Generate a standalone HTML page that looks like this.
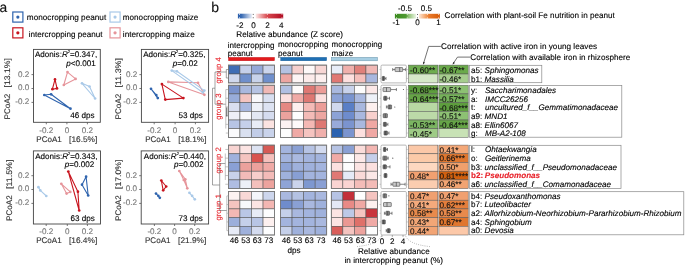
<!DOCTYPE html>
<html><head><meta charset="utf-8"><style>
html,body{margin:0;padding:0;background:#fff;overflow:hidden;}
svg{display:block;font-family:"Liberation Sans", sans-serif;will-change:transform;text-rendering:geometricPrecision;}
</style></head><body>
<svg width="685" height="266" viewBox="0 0 685 266">
<rect width="685" height="266" fill="#fff"/>
<text x="-0.5" y="11.6" font-size="13.8" fill="#111" text-anchor="start"  stroke="#111" stroke-width="0.12">a</text>
<text x="211.2" y="11.7" font-size="14" fill="#111" text-anchor="start"  stroke="#111" stroke-width="0.12">b</text>
<rect x="12.799999999999999" y="12.0" width="10.1" height="10.1" fill="#fff" stroke="#2f64ae" stroke-width="1.2"/>
<circle cx="17.85" cy="17.05" r="1.6" fill="#2f64ae"/>
<text x="26.8" y="20.3" font-size="8.1" fill="#000" text-anchor="start" textLength="79.4" lengthAdjust="spacingAndGlyphs"  stroke="#000" stroke-width="0.12">monocropping peanut</text>
<rect x="12.799999999999999" y="27.8" width="10.1" height="10.1" fill="#fff" stroke="#c8141e" stroke-width="1.2"/>
<circle cx="17.85" cy="32.85" r="1.6" fill="#c8141e"/>
<text x="28.8" y="36.5" font-size="8.1" fill="#000" text-anchor="start" textLength="73.8" lengthAdjust="spacingAndGlyphs"  stroke="#000" stroke-width="0.12">intercropping peanut</text>
<rect x="110.0" y="12.0" width="10.1" height="10.1" fill="#fff" stroke="#a9c9e8" stroke-width="1.2"/>
<circle cx="115.05000000000001" cy="17.05" r="1.6" fill="#a9c9e8"/>
<text x="122.8" y="20.3" font-size="8.1" fill="#000" text-anchor="start" textLength="75.5" lengthAdjust="spacingAndGlyphs"  stroke="#000" stroke-width="0.12">monocropping maize</text>
<rect x="110.0" y="27.8" width="10.1" height="10.1" fill="#fff" stroke="#e6949a" stroke-width="1.2"/>
<circle cx="115.05000000000001" cy="32.85" r="1.6" fill="#e6949a"/>
<text x="122.8" y="36.5" font-size="8.1" fill="#000" text-anchor="start" textLength="72.0" lengthAdjust="spacingAndGlyphs"  stroke="#000" stroke-width="0.12">intercropping maize</text>
<rect x="33.5" y="49.4" width="66.80" height="72.90" fill="none" stroke="#444" stroke-width="0.9"/>
<line x1="46.3" y1="122.3" x2="46.3" y2="124.3" stroke="#555" stroke-width="0.8"/>
<text x="46.3" y="132.5" font-size="8.1" fill="#777" text-anchor="middle"  stroke="#777" stroke-width="0.12">-0.2</text>
<line x1="66.9" y1="122.3" x2="66.9" y2="124.3" stroke="#555" stroke-width="0.8"/>
<text x="66.9" y="132.5" font-size="8.1" fill="#777" text-anchor="middle"  stroke="#777" stroke-width="0.12">0</text>
<line x1="87.4" y1="122.3" x2="87.4" y2="124.3" stroke="#555" stroke-width="0.8"/>
<text x="87.4" y="132.5" font-size="8.1" fill="#777" text-anchor="middle"  stroke="#777" stroke-width="0.12">0.2</text>
<line x1="31.5" y1="74.6" x2="33.5" y2="74.6" stroke="#555" stroke-width="0.8"/>
<text x="29.3" y="76.5" font-size="8.1" fill="#777" text-anchor="end"  stroke="#777" stroke-width="0.12">0.2</text>
<line x1="31.5" y1="88.5" x2="33.5" y2="88.5" stroke="#555" stroke-width="0.8"/>
<text x="29.3" y="90.4" font-size="8.1" fill="#777" text-anchor="end"  stroke="#777" stroke-width="0.12">0.0</text>
<line x1="31.5" y1="102.4" x2="33.5" y2="102.4" stroke="#555" stroke-width="0.8"/>
<text x="29.3" y="104.30000000000001" font-size="8.1" fill="#777" text-anchor="end"  stroke="#777" stroke-width="0.12">-0.2</text>
<text x="36.3" y="141.6" font-size="8.1" fill="#333" text-anchor="start" textLength="25.5" lengthAdjust="spacingAndGlyphs"  stroke="#333" stroke-width="0.12">PCoA1</text>
<text x="69.1" y="141.6" font-size="8.1" fill="#333" text-anchor="start" textLength="28.2" lengthAdjust="spacingAndGlyphs"  stroke="#333" stroke-width="0.12">[16.5%]</text>
<text transform="translate(10.10,119.40) rotate(-90)" x="0" y="0" font-size="8.1" fill="#333" textLength="25.6" lengthAdjust="spacingAndGlyphs" stroke="#333" stroke-width="0.12">PCoA2</text>
<text transform="translate(10.10,87.40) rotate(-90)" x="0" y="0" font-size="8.1" fill="#333" textLength="29.3" lengthAdjust="spacingAndGlyphs" stroke="#333" stroke-width="0.12">[13.1%]</text>
<text x="34.90" y="57.00" font-size="8.1" fill="#000" stroke="#000" stroke-width="0.12">Adonis:<tspan font-style="italic">R</tspan><tspan font-size="4" dy="-3.6">2</tspan><tspan dy="3.6">=0.347,</tspan></text>
<text x="66.20" y="65.50" font-size="8.1" fill="#000" stroke="#000" stroke-width="0.12"><tspan font-style="italic">p</tspan>&lt;0.001</text>
<text x="94.5" y="117.8" font-size="8.1" fill="#000" text-anchor="end"  stroke="#000" stroke-width="0.12">46 dps</text>
<path d="M67.5,72.1 L75.6,78.9 L63.8,85 L67.5,72.1" fill="none" stroke="#e6949a" stroke-width="1.1" stroke-linejoin="round"/>
<circle cx="67.5" cy="72.1" r="1.35" fill="#e6949a"/>
<circle cx="75.6" cy="78.9" r="1.35" fill="#e6949a"/>
<circle cx="63.8" cy="85" r="1.35" fill="#e6949a"/>
<path d="M82,83.3 L89.5,86.5 L95.1,98.5 L82,83.3" fill="none" stroke="#a9c9e8" stroke-width="1.1" stroke-linejoin="round"/>
<circle cx="89.5" cy="86.5" r="1.35" fill="#a9c9e8"/>
<circle cx="82" cy="83.3" r="1.35" fill="#a9c9e8"/>
<circle cx="95.1" cy="98.5" r="1.35" fill="#a9c9e8"/>
<path d="M44.3,95 L51.1,94.3 L70.5,108.7 L44.3,95" fill="none" stroke="#2f64ae" stroke-width="1.1" stroke-linejoin="round"/>
<circle cx="44.3" cy="95" r="1.35" fill="#2f64ae"/>
<circle cx="70.5" cy="108.7" r="1.35" fill="#2f64ae"/>
<circle cx="51.1" cy="94.3" r="1.35" fill="#2f64ae"/>
<path d="M55,79.4 L52.4,89.2 L57,88.4 L55,79.4" fill="none" stroke="#c8141e" stroke-width="1.1" stroke-linejoin="round"/>
<circle cx="57" cy="88.4" r="1.35" fill="#c8141e"/>
<circle cx="55" cy="79.4" r="1.35" fill="#c8141e"/>
<circle cx="52.4" cy="89.2" r="1.35" fill="#c8141e"/>
<rect x="141.4" y="49.4" width="67.20" height="72.90" fill="none" stroke="#444" stroke-width="0.9"/>
<line x1="154.2" y1="122.3" x2="154.2" y2="124.3" stroke="#555" stroke-width="0.8"/>
<text x="154.2" y="132.5" font-size="8.1" fill="#777" text-anchor="middle"  stroke="#777" stroke-width="0.12">-0.2</text>
<line x1="175.1" y1="122.3" x2="175.1" y2="124.3" stroke="#555" stroke-width="0.8"/>
<text x="175.1" y="132.5" font-size="8.1" fill="#777" text-anchor="middle"  stroke="#777" stroke-width="0.12">0</text>
<line x1="195.4" y1="122.3" x2="195.4" y2="124.3" stroke="#555" stroke-width="0.8"/>
<text x="195.4" y="132.5" font-size="8.1" fill="#777" text-anchor="middle"  stroke="#777" stroke-width="0.12">0.2</text>
<line x1="139.4" y1="74.6" x2="141.4" y2="74.6" stroke="#555" stroke-width="0.8"/>
<text x="137.20000000000002" y="76.5" font-size="8.1" fill="#777" text-anchor="end"  stroke="#777" stroke-width="0.12">0.2</text>
<line x1="139.4" y1="88.5" x2="141.4" y2="88.5" stroke="#555" stroke-width="0.8"/>
<text x="137.20000000000002" y="90.4" font-size="8.1" fill="#777" text-anchor="end"  stroke="#777" stroke-width="0.12">0.0</text>
<line x1="139.4" y1="102.4" x2="141.4" y2="102.4" stroke="#555" stroke-width="0.8"/>
<text x="137.20000000000002" y="104.30000000000001" font-size="8.1" fill="#777" text-anchor="end"  stroke="#777" stroke-width="0.12">-0.2</text>
<text x="145.20000000000002" y="141.6" font-size="8.1" fill="#333" text-anchor="start" textLength="25.5" lengthAdjust="spacingAndGlyphs"  stroke="#333" stroke-width="0.12">PCoA1</text>
<text x="178.3" y="141.6" font-size="8.1" fill="#333" text-anchor="start" textLength="28.2" lengthAdjust="spacingAndGlyphs"  stroke="#333" stroke-width="0.12">[18.1%]</text>
<text transform="translate(120.70,119.40) rotate(-90)" x="0" y="0" font-size="8.1" fill="#333" textLength="25.6" lengthAdjust="spacingAndGlyphs" stroke="#333" stroke-width="0.12">PCoA2</text>
<text transform="translate(120.70,87.40) rotate(-90)" x="0" y="0" font-size="8.1" fill="#333" textLength="29.3" lengthAdjust="spacingAndGlyphs" stroke="#333" stroke-width="0.12">[11.3%]</text>
<text x="143.20" y="57.00" font-size="8.1" fill="#000" stroke="#000" stroke-width="0.12">Adonis:<tspan font-style="italic">R</tspan><tspan font-size="4" dy="-3.6">2</tspan><tspan dy="3.6">=0.325,</tspan></text>
<text x="172.80" y="65.50" font-size="8.1" fill="#000" stroke="#000" stroke-width="0.12"><tspan font-style="italic">p</tspan>=0.02</text>
<text x="202.79999999999998" y="117.8" font-size="8.1" fill="#000" text-anchor="end"  stroke="#000" stroke-width="0.12">53 dps</text>
<path d="M168.3,81.9 L198,82.8 L204.4,94.8 L168.3,81.9" fill="none" stroke="#e6949a" stroke-width="1.1" stroke-linejoin="round"/>
<circle cx="168.3" cy="81.9" r="1.35" fill="#e6949a"/>
<circle cx="204.4" cy="94.8" r="1.35" fill="#e6949a"/>
<circle cx="198" cy="82.8" r="1.35" fill="#e6949a"/>
<path d="M171.8,70.6 L176.9,71.3 L204.4,90.6 L202.9,92.5 L171.8,70.6" fill="none" stroke="#a9c9e8" stroke-width="1.1" stroke-linejoin="round"/>
<circle cx="176.9" cy="71.3" r="1.35" fill="#a9c9e8"/>
<circle cx="171.8" cy="70.6" r="1.35" fill="#a9c9e8"/>
<circle cx="202.9" cy="92.5" r="1.35" fill="#a9c9e8"/>
<circle cx="204.4" cy="90.6" r="1.35" fill="#a9c9e8"/>
<path d="M151,88.8 L156.3,95.1 L157.8,98.1 L151,88.8" fill="none" stroke="#2f64ae" stroke-width="1.1" stroke-linejoin="round"/>
<circle cx="157.8" cy="98.1" r="1.35" fill="#2f64ae"/>
<circle cx="151" cy="88.8" r="1.35" fill="#2f64ae"/>
<circle cx="156.3" cy="95.1" r="1.35" fill="#2f64ae"/>
<path d="M161.9,84.1 L165.3,99.6 L183.4,98.1 L161.9,84.1" fill="none" stroke="#c8141e" stroke-width="1.1" stroke-linejoin="round"/>
<circle cx="165.3" cy="99.6" r="1.35" fill="#c8141e"/>
<circle cx="161.9" cy="84.1" r="1.35" fill="#c8141e"/>
<circle cx="183.4" cy="98.1" r="1.35" fill="#c8141e"/>
<rect x="33.4" y="150.9" width="67.10" height="73.10" fill="none" stroke="#444" stroke-width="0.9"/>
<line x1="46.2" y1="224.0" x2="46.2" y2="226.0" stroke="#555" stroke-width="0.8"/>
<text x="46.2" y="234.2" font-size="8.1" fill="#777" text-anchor="middle"  stroke="#777" stroke-width="0.12">-0.2</text>
<line x1="67.3" y1="224.0" x2="67.3" y2="226.0" stroke="#555" stroke-width="0.8"/>
<text x="67.3" y="234.2" font-size="8.1" fill="#777" text-anchor="middle"  stroke="#777" stroke-width="0.12">0</text>
<line x1="87.4" y1="224.0" x2="87.4" y2="226.0" stroke="#555" stroke-width="0.8"/>
<text x="87.4" y="234.2" font-size="8.1" fill="#777" text-anchor="middle"  stroke="#777" stroke-width="0.12">0.2</text>
<line x1="31.4" y1="175.7" x2="33.4" y2="175.7" stroke="#555" stroke-width="0.8"/>
<text x="29.2" y="177.6" font-size="8.1" fill="#777" text-anchor="end"  stroke="#777" stroke-width="0.12">0.2</text>
<line x1="31.4" y1="189.5" x2="33.4" y2="189.5" stroke="#555" stroke-width="0.8"/>
<text x="29.2" y="191.4" font-size="8.1" fill="#777" text-anchor="end"  stroke="#777" stroke-width="0.12">0.0</text>
<line x1="31.4" y1="203.4" x2="33.4" y2="203.4" stroke="#555" stroke-width="0.8"/>
<text x="29.2" y="205.3" font-size="8.1" fill="#777" text-anchor="end"  stroke="#777" stroke-width="0.12">-0.2</text>
<text x="36.199999999999996" y="243.3" font-size="8.1" fill="#333" text-anchor="start" textLength="25.5" lengthAdjust="spacingAndGlyphs"  stroke="#333" stroke-width="0.12">PCoA1</text>
<text x="69.0" y="243.3" font-size="8.1" fill="#333" text-anchor="start" textLength="28.2" lengthAdjust="spacingAndGlyphs"  stroke="#333" stroke-width="0.12">[16.4%]</text>
<text transform="translate(12.20,220.90) rotate(-90)" x="0" y="0" font-size="8.1" fill="#333" textLength="25.6" lengthAdjust="spacingAndGlyphs" stroke="#333" stroke-width="0.12">PCoA2</text>
<text transform="translate(12.20,188.90) rotate(-90)" x="0" y="0" font-size="8.1" fill="#333" textLength="29.3" lengthAdjust="spacingAndGlyphs" stroke="#333" stroke-width="0.12">[11.5%]</text>
<text x="35.20" y="158.70" font-size="8.1" fill="#000" stroke="#000" stroke-width="0.12">Adonis:<tspan font-style="italic">R</tspan><tspan font-size="4" dy="-3.6">2</tspan><tspan dy="3.6">=0.343,</tspan></text>
<text x="64.80" y="166.60" font-size="8.1" fill="#000" stroke="#000" stroke-width="0.12"><tspan font-style="italic">p</tspan>=0.002</text>
<text x="94.7" y="221.1" font-size="8.1" fill="#000" text-anchor="end"  stroke="#000" stroke-width="0.12">63 dps</text>
<path d="M61.3,183.8 L66.6,193.6 L70.3,191.9 L61.3,183.8" fill="none" stroke="#e6949a" stroke-width="1.1" stroke-linejoin="round"/>
<circle cx="70.3" cy="191.9" r="1.35" fill="#e6949a"/>
<circle cx="61.3" cy="183.8" r="1.35" fill="#e6949a"/>
<circle cx="66.6" cy="193.6" r="1.35" fill="#e6949a"/>
<path d="M38.4,187.2 L40.3,190.4 L46.3,196" fill="none" stroke="#a9c9e8" stroke-width="1.1" stroke-linejoin="round"/>
<circle cx="40.3" cy="190.4" r="1.35" fill="#a9c9e8"/>
<circle cx="38.4" cy="187.2" r="1.35" fill="#a9c9e8"/>
<circle cx="46.3" cy="196" r="1.35" fill="#a9c9e8"/>
<path d="M86.1,176.7 L82,184.7 L88.2,195.5 L86.1,176.7" fill="none" stroke="#2f64ae" stroke-width="1.1" stroke-linejoin="round"/>
<circle cx="86.1" cy="176.7" r="1.35" fill="#2f64ae"/>
<circle cx="82" cy="184.7" r="1.35" fill="#2f64ae"/>
<circle cx="88.2" cy="195.5" r="1.35" fill="#2f64ae"/>
<path d="M68.3,171.6 L77.9,191.7 L79.2,210.5 L68.3,171.6" fill="none" stroke="#c8141e" stroke-width="1.1" stroke-linejoin="round"/>
<circle cx="77.9" cy="191.7" r="1.35" fill="#c8141e"/>
<circle cx="68.3" cy="171.6" r="1.35" fill="#c8141e"/>
<circle cx="79.2" cy="210.5" r="1.35" fill="#c8141e"/>
<rect x="141.2" y="150.9" width="67.40" height="73.10" fill="none" stroke="#444" stroke-width="0.9"/>
<line x1="154.4" y1="224.0" x2="154.4" y2="226.0" stroke="#555" stroke-width="0.8"/>
<text x="154.4" y="234.2" font-size="8.1" fill="#777" text-anchor="middle"  stroke="#777" stroke-width="0.12">-0.2</text>
<line x1="174.6" y1="224.0" x2="174.6" y2="226.0" stroke="#555" stroke-width="0.8"/>
<text x="174.6" y="234.2" font-size="8.1" fill="#777" text-anchor="middle"  stroke="#777" stroke-width="0.12">0</text>
<line x1="194.7" y1="224.0" x2="194.7" y2="226.0" stroke="#555" stroke-width="0.8"/>
<text x="194.7" y="234.2" font-size="8.1" fill="#777" text-anchor="middle"  stroke="#777" stroke-width="0.12">0.2</text>
<line x1="139.2" y1="175.7" x2="141.2" y2="175.7" stroke="#555" stroke-width="0.8"/>
<text x="137.0" y="177.6" font-size="8.1" fill="#777" text-anchor="end"  stroke="#777" stroke-width="0.12">0.2</text>
<line x1="139.2" y1="189.5" x2="141.2" y2="189.5" stroke="#555" stroke-width="0.8"/>
<text x="137.0" y="191.4" font-size="8.1" fill="#777" text-anchor="end"  stroke="#777" stroke-width="0.12">0.0</text>
<line x1="139.2" y1="203.4" x2="141.2" y2="203.4" stroke="#555" stroke-width="0.8"/>
<text x="137.0" y="205.3" font-size="8.1" fill="#777" text-anchor="end"  stroke="#777" stroke-width="0.12">-0.2</text>
<text x="145.0" y="243.3" font-size="8.1" fill="#333" text-anchor="start" textLength="25.5" lengthAdjust="spacingAndGlyphs"  stroke="#333" stroke-width="0.12">PCoA1</text>
<text x="178.1" y="243.3" font-size="8.1" fill="#333" text-anchor="start" textLength="28.2" lengthAdjust="spacingAndGlyphs"  stroke="#333" stroke-width="0.12">[21.9%]</text>
<text transform="translate(121.00,220.90) rotate(-90)" x="0" y="0" font-size="8.1" fill="#333" textLength="25.6" lengthAdjust="spacingAndGlyphs" stroke="#333" stroke-width="0.12">PCoA2</text>
<text transform="translate(121.00,188.90) rotate(-90)" x="0" y="0" font-size="8.1" fill="#333" textLength="29.3" lengthAdjust="spacingAndGlyphs" stroke="#333" stroke-width="0.12">[17.0%]</text>
<text x="143.80" y="158.70" font-size="8.1" fill="#000" stroke="#000" stroke-width="0.12">Adonis:<tspan font-style="italic">R</tspan><tspan font-size="4" dy="-3.6">2</tspan><tspan dy="3.6">=0.440,</tspan></text>
<text x="174.00" y="166.60" font-size="8.1" fill="#000" stroke="#000" stroke-width="0.12"><tspan font-style="italic">p</tspan>=0.002</text>
<text x="202.79999999999998" y="221.1" font-size="8.1" fill="#000" text-anchor="end"  stroke="#000" stroke-width="0.12">73 dps</text>
<path d="M179.3,171 L185.3,179.3 L187.3,188.3 L183.8,180 L179.3,171" fill="none" stroke="#e6949a" stroke-width="1.1" stroke-linejoin="round"/>
<circle cx="185.3" cy="179.3" r="1.35" fill="#e6949a"/>
<circle cx="179.3" cy="171" r="1.35" fill="#e6949a"/>
<circle cx="187.3" cy="188.3" r="1.35" fill="#e6949a"/>
<circle cx="183.8" cy="180" r="1.35" fill="#e6949a"/>
<path d="M189.4,192.8 L192.1,195.8 L194.8,199.3" fill="none" stroke="#a9c9e8" stroke-width="1.1" stroke-linejoin="round"/>
<circle cx="194.8" cy="199.3" r="1.35" fill="#a9c9e8"/>
<circle cx="189.4" cy="192.8" r="1.35" fill="#a9c9e8"/>
<circle cx="192.1" cy="195.8" r="1.35" fill="#a9c9e8"/>
<path d="M156,193.6 L158.3,195.8 L159.8,197.8" fill="none" stroke="#2f64ae" stroke-width="1.1" stroke-linejoin="round"/>
<circle cx="156" cy="193.6" r="1.35" fill="#2f64ae"/>
<circle cx="158.3" cy="195.8" r="1.35" fill="#2f64ae"/>
<circle cx="159.8" cy="197.8" r="1.35" fill="#2f64ae"/>
<path d="M161.3,180.5 L166.2,186.5 L163.2,190.3 L161.3,180.5" fill="none" stroke="#c8141e" stroke-width="1.1" stroke-linejoin="round"/>
<circle cx="161.3" cy="180.5" r="1.35" fill="#c8141e"/>
<circle cx="163.2" cy="190.3" r="1.35" fill="#c8141e"/>
<circle cx="166.2" cy="186.5" r="1.35" fill="#c8141e"/>
<defs><linearGradient id="gz" x1="0" x2="1" y1="0" y2="0"><stop offset="0" stop-color="#2a5eac"/><stop offset="0.08" stop-color="#3a6cb4"/><stop offset="0.30" stop-color="#e2e8f4"/><stop offset="0.31" stop-color="#ffffff"/><stop offset="0.385" stop-color="#ffffff"/><stop offset="0.40" stop-color="#fce6e4"/><stop offset="0.65" stop-color="#d8484e"/><stop offset="1" stop-color="#b00c22"/></linearGradient><linearGradient id="gc" x1="0" x2="1" y1="0" y2="0"><stop offset="0" stop-color="#3a8a1e"/><stop offset="0.25" stop-color="#4f9a32"/><stop offset="0.30" stop-color="#8cc070"/><stop offset="0.46" stop-color="#e6f1de"/><stop offset="0.47" stop-color="#ffffff"/><stop offset="0.525" stop-color="#ffffff"/><stop offset="0.535" stop-color="#fde6d6"/><stop offset="0.70" stop-color="#f29a58"/><stop offset="0.76" stop-color="#e97a2c"/><stop offset="1" stop-color="#d65a06"/></linearGradient></defs>
<rect x="237.9" y="13.7" width="45.3" height="4.7" fill="url(#gz)"/>
<rect x="239.2" y="13.7" width="0.8" height="1.1" fill="#fff"/><rect x="239.2" y="17.3" width="0.8" height="1.1" fill="#fff"/>
<rect x="266.90000000000003" y="13.7" width="0.8" height="1.1" fill="#fff"/><rect x="266.90000000000003" y="17.3" width="0.8" height="1.1" fill="#fff"/>
<rect x="281.6" y="13.7" width="0.8" height="1.1" fill="#fff"/><rect x="281.6" y="17.3" width="0.8" height="1.1" fill="#fff"/>
<rect x="252.8" y="13.9" width="0.8" height="0.9" fill="#222"/><rect x="252.8" y="17.3" width="0.8" height="0.9" fill="#222"/>
<text x="239.8" y="28.0" font-size="8.1" fill="#000" text-anchor="middle"  stroke="#000" stroke-width="0.12">-2</text>
<text x="253.6" y="28.0" font-size="8.1" fill="#000" text-anchor="middle"  stroke="#000" stroke-width="0.12">0</text>
<text x="267.4" y="28.0" font-size="8.1" fill="#000" text-anchor="middle"  stroke="#000" stroke-width="0.12">2</text>
<text x="281.2" y="28.0" font-size="8.1" fill="#000" text-anchor="middle"  stroke="#000" stroke-width="0.12">4</text>
<text x="236.3" y="37.0" font-size="8.1" fill="#000" text-anchor="start" textLength="106.6" lengthAdjust="spacingAndGlyphs"  stroke="#000" stroke-width="0.12">Relative abundance (Z score)</text>
<text x="227.8" y="47.6" font-size="8.1" fill="#000" text-anchor="start" textLength="46.6" lengthAdjust="spacingAndGlyphs"  stroke="#000" stroke-width="0.12">intercropping</text>
<text x="227.8" y="55.8" font-size="8.1" fill="#000" text-anchor="start"  stroke="#000" stroke-width="0.12">peanut</text>
<text x="277.9" y="47.4" font-size="8.1" fill="#000" text-anchor="start" textLength="50.6" lengthAdjust="spacingAndGlyphs"  stroke="#000" stroke-width="0.12">monocropping</text>
<text x="277.9" y="55.6" font-size="8.1" fill="#000" text-anchor="start"  stroke="#000" stroke-width="0.12">peanut</text>
<text x="331.6" y="47.4" font-size="8.1" fill="#000" text-anchor="start" textLength="50.6" lengthAdjust="spacingAndGlyphs"  stroke="#000" stroke-width="0.12">monocropping</text>
<text x="331.6" y="55.6" font-size="8.1" fill="#000" text-anchor="start"  stroke="#000" stroke-width="0.12">maize</text>
<rect x="228.4" y="57.3" width="46.2" height="3.5" fill="#e31a1c" stroke="#b01015" stroke-width="0.3"/>
<rect x="280.6" y="57.3" width="46.1" height="3.5" fill="#1f6fb4" stroke="#104f88" stroke-width="0.3"/>
<rect x="331.3" y="57.3" width="46.2" height="3.5" fill="#a6cee3" stroke="#6a94aa" stroke-width="0.5"/>
<rect x="228.40" y="65.10" width="11.55" height="8.90" fill="#3f6db5" stroke="#555" stroke-width="0.55"/>
<rect x="239.95" y="65.10" width="11.55" height="8.90" fill="#c6d0ea" stroke="#555" stroke-width="0.55"/>
<rect x="251.50" y="65.10" width="11.55" height="8.90" fill="#94a8d8" stroke="#555" stroke-width="0.55"/>
<rect x="263.05" y="65.10" width="11.55" height="8.90" fill="#ccd5ec" stroke="#555" stroke-width="0.55"/>
<rect x="228.40" y="74.00" width="11.55" height="8.90" fill="#d0d8ed" stroke="#555" stroke-width="0.55"/>
<rect x="239.95" y="74.00" width="11.55" height="8.90" fill="#6f8fcc" stroke="#555" stroke-width="0.55"/>
<rect x="251.50" y="74.00" width="11.55" height="8.90" fill="#c8d2ea" stroke="#555" stroke-width="0.55"/>
<rect x="263.05" y="74.00" width="11.55" height="8.90" fill="#6f8fcc" stroke="#555" stroke-width="0.55"/>
<rect x="228.4" y="65.1" width="46.2" height="17.80" fill="none" stroke="#777" stroke-width="0.8"/>
<rect x="280.50" y="65.10" width="11.55" height="8.90" fill="#b4c2e2" stroke="#555" stroke-width="0.55"/>
<rect x="292.05" y="65.10" width="11.55" height="8.90" fill="#f6d0ce" stroke="#555" stroke-width="0.55"/>
<rect x="303.60" y="65.10" width="11.55" height="8.90" fill="#fdf8f8" stroke="#555" stroke-width="0.55"/>
<rect x="315.15" y="65.10" width="11.55" height="8.90" fill="#f7d6d4" stroke="#555" stroke-width="0.55"/>
<rect x="280.50" y="74.00" width="11.55" height="8.90" fill="#eda6a2" stroke="#555" stroke-width="0.55"/>
<rect x="292.05" y="74.00" width="11.55" height="8.90" fill="#fdf5f5" stroke="#555" stroke-width="0.55"/>
<rect x="303.60" y="74.00" width="11.55" height="8.90" fill="#fcebea" stroke="#555" stroke-width="0.55"/>
<rect x="315.15" y="74.00" width="11.55" height="8.90" fill="#fdf0ef" stroke="#555" stroke-width="0.55"/>
<rect x="280.5" y="65.1" width="46.2" height="17.80" fill="none" stroke="#777" stroke-width="0.8"/>
<rect x="331.30" y="65.10" width="11.55" height="8.90" fill="#e8edf8" stroke="#555" stroke-width="0.55"/>
<rect x="342.85" y="65.10" width="11.55" height="8.90" fill="#f0b0ac" stroke="#555" stroke-width="0.55"/>
<rect x="354.40" y="65.10" width="11.55" height="8.90" fill="#e0807a" stroke="#555" stroke-width="0.55"/>
<rect x="365.95" y="65.10" width="11.55" height="8.90" fill="#f0b8b5" stroke="#555" stroke-width="0.55"/>
<rect x="331.30" y="74.00" width="11.55" height="8.90" fill="#e07874" stroke="#555" stroke-width="0.55"/>
<rect x="342.85" y="74.00" width="11.55" height="8.90" fill="#fde0df" stroke="#555" stroke-width="0.55"/>
<rect x="354.40" y="74.00" width="11.55" height="8.90" fill="#f5c0bc" stroke="#555" stroke-width="0.55"/>
<rect x="365.95" y="74.00" width="11.55" height="8.90" fill="#a9b7de" stroke="#555" stroke-width="0.55"/>
<rect x="331.3" y="65.1" width="46.2" height="17.80" fill="none" stroke="#777" stroke-width="0.8"/>
<rect x="228.40" y="85.20" width="11.55" height="8.70" fill="#7b93cc" stroke="#555" stroke-width="0.55"/>
<rect x="239.95" y="85.20" width="11.55" height="8.70" fill="#a9b8de" stroke="#555" stroke-width="0.55"/>
<rect x="251.50" y="85.20" width="11.55" height="8.70" fill="#b6c3e3" stroke="#555" stroke-width="0.55"/>
<rect x="263.05" y="85.20" width="11.55" height="8.70" fill="#f0b8b5" stroke="#555" stroke-width="0.55"/>
<rect x="228.40" y="93.90" width="11.55" height="8.70" fill="#98acd9" stroke="#555" stroke-width="0.55"/>
<rect x="239.95" y="93.90" width="11.55" height="8.70" fill="#f3c4c0" stroke="#555" stroke-width="0.55"/>
<rect x="251.50" y="93.90" width="11.55" height="8.70" fill="#f8f8fb" stroke="#555" stroke-width="0.55"/>
<rect x="263.05" y="93.90" width="11.55" height="8.70" fill="#d8dff0" stroke="#555" stroke-width="0.55"/>
<rect x="228.40" y="102.60" width="11.55" height="8.70" fill="#d8def0" stroke="#555" stroke-width="0.55"/>
<rect x="239.95" y="102.60" width="11.55" height="8.70" fill="#a8b8df" stroke="#555" stroke-width="0.55"/>
<rect x="251.50" y="102.60" width="11.55" height="8.70" fill="#eef1f8" stroke="#555" stroke-width="0.55"/>
<rect x="263.05" y="102.60" width="11.55" height="8.70" fill="#dde3f2" stroke="#555" stroke-width="0.55"/>
<rect x="228.40" y="111.30" width="11.55" height="8.70" fill="#eef0f8" stroke="#555" stroke-width="0.55"/>
<rect x="239.95" y="111.30" width="11.55" height="8.70" fill="#f8f8fb" stroke="#555" stroke-width="0.55"/>
<rect x="251.50" y="111.30" width="11.55" height="8.70" fill="#e3e8f4" stroke="#555" stroke-width="0.55"/>
<rect x="263.05" y="111.30" width="11.55" height="8.70" fill="#d5dcef" stroke="#555" stroke-width="0.55"/>
<rect x="228.40" y="120.00" width="11.55" height="8.70" fill="#b7c4e4" stroke="#555" stroke-width="0.55"/>
<rect x="239.95" y="120.00" width="11.55" height="8.70" fill="#c5d0ea" stroke="#555" stroke-width="0.55"/>
<rect x="251.50" y="120.00" width="11.55" height="8.70" fill="#e8ecf6" stroke="#555" stroke-width="0.55"/>
<rect x="263.05" y="120.00" width="11.55" height="8.70" fill="#fbe3e1" stroke="#555" stroke-width="0.55"/>
<rect x="228.40" y="128.70" width="11.55" height="8.70" fill="#fafafc" stroke="#555" stroke-width="0.55"/>
<rect x="239.95" y="128.70" width="11.55" height="8.70" fill="#d9e0f0" stroke="#555" stroke-width="0.55"/>
<rect x="251.50" y="128.70" width="11.55" height="8.70" fill="#c2cde8" stroke="#555" stroke-width="0.55"/>
<rect x="263.05" y="128.70" width="11.55" height="8.70" fill="#c9d3eb" stroke="#555" stroke-width="0.55"/>
<rect x="228.4" y="85.2" width="46.2" height="52.20" fill="none" stroke="#777" stroke-width="0.8"/>
<rect x="280.50" y="85.20" width="11.55" height="8.70" fill="#b0bfe2" stroke="#555" stroke-width="0.55"/>
<rect x="292.05" y="85.20" width="11.55" height="8.70" fill="#fdfafa" stroke="#555" stroke-width="0.55"/>
<rect x="303.60" y="85.20" width="11.55" height="8.70" fill="#de7873" stroke="#555" stroke-width="0.55"/>
<rect x="315.15" y="85.20" width="11.55" height="8.70" fill="#ec9c97" stroke="#555" stroke-width="0.55"/>
<rect x="280.50" y="93.90" width="11.55" height="8.70" fill="#fce0df" stroke="#555" stroke-width="0.55"/>
<rect x="292.05" y="93.90" width="11.55" height="8.70" fill="#f0aaa6" stroke="#555" stroke-width="0.55"/>
<rect x="303.60" y="93.90" width="11.55" height="8.70" fill="#de7873" stroke="#555" stroke-width="0.55"/>
<rect x="315.15" y="93.90" width="11.55" height="8.70" fill="#fce0df" stroke="#555" stroke-width="0.55"/>
<rect x="280.50" y="102.60" width="11.55" height="8.70" fill="#e58882" stroke="#555" stroke-width="0.55"/>
<rect x="292.05" y="102.60" width="11.55" height="8.70" fill="#fdf0ef" stroke="#555" stroke-width="0.55"/>
<rect x="303.60" y="102.60" width="11.55" height="8.70" fill="#f4bbb7" stroke="#555" stroke-width="0.55"/>
<rect x="315.15" y="102.60" width="11.55" height="8.70" fill="#ec9d98" stroke="#555" stroke-width="0.55"/>
<rect x="280.50" y="111.30" width="11.55" height="8.70" fill="#eba29d" stroke="#555" stroke-width="0.55"/>
<rect x="292.05" y="111.30" width="11.55" height="8.70" fill="#fefefe" stroke="#555" stroke-width="0.55"/>
<rect x="303.60" y="111.30" width="11.55" height="8.70" fill="#f4bbb7" stroke="#555" stroke-width="0.55"/>
<rect x="315.15" y="111.30" width="11.55" height="8.70" fill="#eda6a1" stroke="#555" stroke-width="0.55"/>
<rect x="280.50" y="120.00" width="11.55" height="8.70" fill="#fdf3f3" stroke="#555" stroke-width="0.55"/>
<rect x="292.05" y="120.00" width="11.55" height="8.70" fill="#fdfafa" stroke="#555" stroke-width="0.55"/>
<rect x="303.60" y="120.00" width="11.55" height="8.70" fill="#f4b8b4" stroke="#555" stroke-width="0.55"/>
<rect x="315.15" y="120.00" width="11.55" height="8.70" fill="#de7873" stroke="#555" stroke-width="0.55"/>
<rect x="280.50" y="128.70" width="11.55" height="8.70" fill="#fdfdfd" stroke="#555" stroke-width="0.55"/>
<rect x="292.05" y="128.70" width="11.55" height="8.70" fill="#f0aaa6" stroke="#555" stroke-width="0.55"/>
<rect x="303.60" y="128.70" width="11.55" height="8.70" fill="#f5c4c0" stroke="#555" stroke-width="0.55"/>
<rect x="315.15" y="128.70" width="11.55" height="8.70" fill="#f0b0ac" stroke="#555" stroke-width="0.55"/>
<rect x="280.5" y="85.2" width="46.2" height="52.20" fill="none" stroke="#777" stroke-width="0.8"/>
<rect x="331.30" y="85.20" width="11.55" height="8.70" fill="#a9b8df" stroke="#555" stroke-width="0.55"/>
<rect x="342.85" y="85.20" width="11.55" height="8.70" fill="#c8d2eb" stroke="#555" stroke-width="0.55"/>
<rect x="354.40" y="85.20" width="11.55" height="8.70" fill="#fdfdfd" stroke="#555" stroke-width="0.55"/>
<rect x="365.95" y="85.20" width="11.55" height="8.70" fill="#fce8e7" stroke="#555" stroke-width="0.55"/>
<rect x="331.30" y="93.90" width="11.55" height="8.70" fill="#8ca2d6" stroke="#555" stroke-width="0.55"/>
<rect x="342.85" y="93.90" width="11.55" height="8.70" fill="#7994cf" stroke="#555" stroke-width="0.55"/>
<rect x="354.40" y="93.90" width="11.55" height="8.70" fill="#a9b8df" stroke="#555" stroke-width="0.55"/>
<rect x="365.95" y="93.90" width="11.55" height="8.70" fill="#eef1f8" stroke="#555" stroke-width="0.55"/>
<rect x="331.30" y="102.60" width="11.55" height="8.70" fill="#d0d8ee" stroke="#555" stroke-width="0.55"/>
<rect x="342.85" y="102.60" width="11.55" height="8.70" fill="#5a7fc6" stroke="#555" stroke-width="0.55"/>
<rect x="354.40" y="102.60" width="11.55" height="8.70" fill="#a9b8df" stroke="#555" stroke-width="0.55"/>
<rect x="365.95" y="102.60" width="11.55" height="8.70" fill="#fdf0ef" stroke="#555" stroke-width="0.55"/>
<rect x="331.30" y="111.30" width="11.55" height="8.70" fill="#8ca2d6" stroke="#555" stroke-width="0.55"/>
<rect x="342.85" y="111.30" width="11.55" height="8.70" fill="#6e8ccd" stroke="#555" stroke-width="0.55"/>
<rect x="354.40" y="111.30" width="11.55" height="8.70" fill="#a9b8df" stroke="#555" stroke-width="0.55"/>
<rect x="365.95" y="111.30" width="11.55" height="8.70" fill="#f8d0cd" stroke="#555" stroke-width="0.55"/>
<rect x="331.30" y="120.00" width="11.55" height="8.70" fill="#98aada" stroke="#555" stroke-width="0.55"/>
<rect x="342.85" y="120.00" width="11.55" height="8.70" fill="#7b94cf" stroke="#555" stroke-width="0.55"/>
<rect x="354.40" y="120.00" width="11.55" height="8.70" fill="#a9b8df" stroke="#555" stroke-width="0.55"/>
<rect x="365.95" y="120.00" width="11.55" height="8.70" fill="#f0a8a4" stroke="#555" stroke-width="0.55"/>
<rect x="331.30" y="128.70" width="11.55" height="8.70" fill="#2a62b0" stroke="#555" stroke-width="0.55"/>
<rect x="342.85" y="128.70" width="11.55" height="8.70" fill="#7b94cf" stroke="#555" stroke-width="0.55"/>
<rect x="354.40" y="128.70" width="11.55" height="8.70" fill="#fde0df" stroke="#555" stroke-width="0.55"/>
<rect x="365.95" y="128.70" width="11.55" height="8.70" fill="#f0a8a4" stroke="#555" stroke-width="0.55"/>
<rect x="331.3" y="85.2" width="46.2" height="52.20" fill="none" stroke="#777" stroke-width="0.8"/>
<rect x="228.40" y="145.10" width="11.55" height="8.70" fill="#f8d4d2" stroke="#555" stroke-width="0.55"/>
<rect x="239.95" y="145.10" width="11.55" height="8.70" fill="#fce4e3" stroke="#555" stroke-width="0.55"/>
<rect x="251.50" y="145.10" width="11.55" height="8.70" fill="#dde3f2" stroke="#555" stroke-width="0.55"/>
<rect x="263.05" y="145.10" width="11.55" height="8.70" fill="#d65a55" stroke="#555" stroke-width="0.55"/>
<rect x="228.40" y="153.80" width="11.55" height="8.70" fill="#9fb1dc" stroke="#555" stroke-width="0.55"/>
<rect x="239.95" y="153.80" width="11.55" height="8.70" fill="#f5c4c0" stroke="#555" stroke-width="0.55"/>
<rect x="251.50" y="153.80" width="11.55" height="8.70" fill="#d9534e" stroke="#555" stroke-width="0.55"/>
<rect x="263.05" y="153.80" width="11.55" height="8.70" fill="#f5c0bc" stroke="#555" stroke-width="0.55"/>
<rect x="228.40" y="162.50" width="11.55" height="8.70" fill="#8aa0d5" stroke="#555" stroke-width="0.55"/>
<rect x="239.95" y="162.50" width="11.55" height="8.70" fill="#eca19c" stroke="#555" stroke-width="0.55"/>
<rect x="251.50" y="162.50" width="11.55" height="8.70" fill="#eca19c" stroke="#555" stroke-width="0.55"/>
<rect x="263.05" y="162.50" width="11.55" height="8.70" fill="#f0aaa6" stroke="#555" stroke-width="0.55"/>
<rect x="228.40" y="171.20" width="11.55" height="8.70" fill="#c8d2ea" stroke="#555" stroke-width="0.55"/>
<rect x="239.95" y="171.20" width="11.55" height="8.70" fill="#f3bbb8" stroke="#555" stroke-width="0.55"/>
<rect x="251.50" y="171.20" width="11.55" height="8.70" fill="#f7cecb" stroke="#555" stroke-width="0.55"/>
<rect x="263.05" y="171.20" width="11.55" height="8.70" fill="#f3bbb8" stroke="#555" stroke-width="0.55"/>
<rect x="228.40" y="179.90" width="11.55" height="8.70" fill="#afbde2" stroke="#555" stroke-width="0.55"/>
<rect x="239.95" y="179.90" width="11.55" height="8.70" fill="#edf0f8" stroke="#555" stroke-width="0.55"/>
<rect x="251.50" y="179.90" width="11.55" height="8.70" fill="#f4c0bc" stroke="#555" stroke-width="0.55"/>
<rect x="263.05" y="179.90" width="11.55" height="8.70" fill="#eda39e" stroke="#555" stroke-width="0.55"/>
<rect x="228.4" y="145.1" width="46.2" height="43.50" fill="none" stroke="#777" stroke-width="0.8"/>
<rect x="280.50" y="145.10" width="11.55" height="8.70" fill="#a3b4de" stroke="#555" stroke-width="0.55"/>
<rect x="292.05" y="145.10" width="11.55" height="8.70" fill="#8aa0d4" stroke="#555" stroke-width="0.55"/>
<rect x="303.60" y="145.10" width="11.55" height="8.70" fill="#b6c3e4" stroke="#555" stroke-width="0.55"/>
<rect x="315.15" y="145.10" width="11.55" height="8.70" fill="#d2daef" stroke="#555" stroke-width="0.55"/>
<rect x="280.50" y="153.80" width="11.55" height="8.70" fill="#a3b4de" stroke="#555" stroke-width="0.55"/>
<rect x="292.05" y="153.80" width="11.55" height="8.70" fill="#aab9e0" stroke="#555" stroke-width="0.55"/>
<rect x="303.60" y="153.80" width="11.55" height="8.70" fill="#a3b4de" stroke="#555" stroke-width="0.55"/>
<rect x="315.15" y="153.80" width="11.55" height="8.70" fill="#a3b4de" stroke="#555" stroke-width="0.55"/>
<rect x="280.50" y="162.50" width="11.55" height="8.70" fill="#8fa4d6" stroke="#555" stroke-width="0.55"/>
<rect x="292.05" y="162.50" width="11.55" height="8.70" fill="#9fb1dc" stroke="#555" stroke-width="0.55"/>
<rect x="303.60" y="162.50" width="11.55" height="8.70" fill="#9fb1dc" stroke="#555" stroke-width="0.55"/>
<rect x="315.15" y="162.50" width="11.55" height="8.70" fill="#a3b4de" stroke="#555" stroke-width="0.55"/>
<rect x="280.50" y="171.20" width="11.55" height="8.70" fill="#9fb1dc" stroke="#555" stroke-width="0.55"/>
<rect x="292.05" y="171.20" width="11.55" height="8.70" fill="#889fd4" stroke="#555" stroke-width="0.55"/>
<rect x="303.60" y="171.20" width="11.55" height="8.70" fill="#a3b4de" stroke="#555" stroke-width="0.55"/>
<rect x="315.15" y="171.20" width="11.55" height="8.70" fill="#a3b4de" stroke="#555" stroke-width="0.55"/>
<rect x="280.50" y="179.90" width="11.55" height="8.70" fill="#8fa4d6" stroke="#555" stroke-width="0.55"/>
<rect x="292.05" y="179.90" width="11.55" height="8.70" fill="#cbd4ec" stroke="#555" stroke-width="0.55"/>
<rect x="303.60" y="179.90" width="11.55" height="8.70" fill="#7e98d0" stroke="#555" stroke-width="0.55"/>
<rect x="315.15" y="179.90" width="11.55" height="8.70" fill="#8aa0d4" stroke="#555" stroke-width="0.55"/>
<rect x="280.5" y="145.1" width="46.2" height="43.50" fill="none" stroke="#777" stroke-width="0.8"/>
<rect x="331.30" y="145.10" width="11.55" height="8.70" fill="#b6c3e4" stroke="#555" stroke-width="0.55"/>
<rect x="342.85" y="145.10" width="11.55" height="8.70" fill="#8aa0d4" stroke="#555" stroke-width="0.55"/>
<rect x="354.40" y="145.10" width="11.55" height="8.70" fill="#fadcda" stroke="#555" stroke-width="0.55"/>
<rect x="365.95" y="145.10" width="11.55" height="8.70" fill="#f3b6b2" stroke="#555" stroke-width="0.55"/>
<rect x="331.30" y="153.80" width="11.55" height="8.70" fill="#f0aaa6" stroke="#555" stroke-width="0.55"/>
<rect x="342.85" y="153.80" width="11.55" height="8.70" fill="#fdfdfe" stroke="#555" stroke-width="0.55"/>
<rect x="354.40" y="153.80" width="11.55" height="8.70" fill="#fce8e7" stroke="#555" stroke-width="0.55"/>
<rect x="365.95" y="153.80" width="11.55" height="8.70" fill="#c5cfea" stroke="#555" stroke-width="0.55"/>
<rect x="331.30" y="162.50" width="11.55" height="8.70" fill="#fce0df" stroke="#555" stroke-width="0.55"/>
<rect x="342.85" y="162.50" width="11.55" height="8.70" fill="#fdfdfd" stroke="#555" stroke-width="0.55"/>
<rect x="354.40" y="162.50" width="11.55" height="8.70" fill="#fce4e3" stroke="#555" stroke-width="0.55"/>
<rect x="365.95" y="162.50" width="11.55" height="8.70" fill="#fbe0df" stroke="#555" stroke-width="0.55"/>
<rect x="331.30" y="171.20" width="11.55" height="8.70" fill="#e07874" stroke="#555" stroke-width="0.55"/>
<rect x="342.85" y="171.20" width="11.55" height="8.70" fill="#e5eaf6" stroke="#555" stroke-width="0.55"/>
<rect x="354.40" y="171.20" width="11.55" height="8.70" fill="#fadad8" stroke="#555" stroke-width="0.55"/>
<rect x="365.95" y="171.20" width="11.55" height="8.70" fill="#fce8e7" stroke="#555" stroke-width="0.55"/>
<rect x="331.30" y="179.90" width="11.55" height="8.70" fill="#fad4d2" stroke="#555" stroke-width="0.55"/>
<rect x="342.85" y="179.90" width="11.55" height="8.70" fill="#fad4d2" stroke="#555" stroke-width="0.55"/>
<rect x="354.40" y="179.90" width="11.55" height="8.70" fill="#f4bcb8" stroke="#555" stroke-width="0.55"/>
<rect x="365.95" y="179.90" width="11.55" height="8.70" fill="#f4bcb8" stroke="#555" stroke-width="0.55"/>
<rect x="331.3" y="145.1" width="46.2" height="43.50" fill="none" stroke="#777" stroke-width="0.8"/>
<rect x="228.40" y="191.50" width="11.55" height="8.70" fill="#fdf3f2" stroke="#555" stroke-width="0.55"/>
<rect x="239.95" y="191.50" width="11.55" height="8.70" fill="#f9d8d6" stroke="#555" stroke-width="0.55"/>
<rect x="251.50" y="191.50" width="11.55" height="8.70" fill="#f4f6fb" stroke="#555" stroke-width="0.55"/>
<rect x="263.05" y="191.50" width="11.55" height="8.70" fill="#cdd6ed" stroke="#555" stroke-width="0.55"/>
<rect x="228.40" y="200.20" width="11.55" height="8.70" fill="#f5c4c0" stroke="#555" stroke-width="0.55"/>
<rect x="239.95" y="200.20" width="11.55" height="8.70" fill="#f8f9fc" stroke="#555" stroke-width="0.55"/>
<rect x="251.50" y="200.20" width="11.55" height="8.70" fill="#fce4e3" stroke="#555" stroke-width="0.55"/>
<rect x="263.05" y="200.20" width="11.55" height="8.70" fill="#f3b6b2" stroke="#555" stroke-width="0.55"/>
<rect x="228.40" y="208.90" width="11.55" height="8.70" fill="#f3b8b4" stroke="#555" stroke-width="0.55"/>
<rect x="239.95" y="208.90" width="11.55" height="8.70" fill="#bac7e6" stroke="#555" stroke-width="0.55"/>
<rect x="251.50" y="208.90" width="11.55" height="8.70" fill="#e8ecf6" stroke="#555" stroke-width="0.55"/>
<rect x="263.05" y="208.90" width="11.55" height="8.70" fill="#fdfdfe" stroke="#555" stroke-width="0.55"/>
<rect x="228.40" y="217.60" width="11.55" height="8.70" fill="#9cafdb" stroke="#555" stroke-width="0.55"/>
<rect x="239.95" y="217.60" width="11.55" height="8.70" fill="#c5d0ea" stroke="#555" stroke-width="0.55"/>
<rect x="251.50" y="217.60" width="11.55" height="8.70" fill="#b8c5e5" stroke="#555" stroke-width="0.55"/>
<rect x="263.05" y="217.60" width="11.55" height="8.70" fill="#fdf0ef" stroke="#555" stroke-width="0.55"/>
<rect x="228.40" y="226.30" width="11.55" height="8.70" fill="#e7ebf6" stroke="#555" stroke-width="0.55"/>
<rect x="239.95" y="226.30" width="11.55" height="8.70" fill="#9fb1dc" stroke="#555" stroke-width="0.55"/>
<rect x="251.50" y="226.30" width="11.55" height="8.70" fill="#d4dbef" stroke="#555" stroke-width="0.55"/>
<rect x="263.05" y="226.30" width="11.55" height="8.70" fill="#fdfdfe" stroke="#555" stroke-width="0.55"/>
<rect x="228.4" y="191.5" width="46.2" height="43.50" fill="none" stroke="#777" stroke-width="0.8"/>
<rect x="280.50" y="191.50" width="11.55" height="8.70" fill="#a9b8df" stroke="#555" stroke-width="0.55"/>
<rect x="292.05" y="191.50" width="11.55" height="8.70" fill="#b4c2e3" stroke="#555" stroke-width="0.55"/>
<rect x="303.60" y="191.50" width="11.55" height="8.70" fill="#a3b4de" stroke="#555" stroke-width="0.55"/>
<rect x="315.15" y="191.50" width="11.55" height="8.70" fill="#a9b8df" stroke="#555" stroke-width="0.55"/>
<rect x="280.50" y="200.20" width="11.55" height="8.70" fill="#6f8ccc" stroke="#555" stroke-width="0.55"/>
<rect x="292.05" y="200.20" width="11.55" height="8.70" fill="#8aa0d4" stroke="#555" stroke-width="0.55"/>
<rect x="303.60" y="200.20" width="11.55" height="8.70" fill="#a9b8df" stroke="#555" stroke-width="0.55"/>
<rect x="315.15" y="200.20" width="11.55" height="8.70" fill="#9fb1dc" stroke="#555" stroke-width="0.55"/>
<rect x="280.50" y="208.90" width="11.55" height="8.70" fill="#c5d0ea" stroke="#555" stroke-width="0.55"/>
<rect x="292.05" y="208.90" width="11.55" height="8.70" fill="#a9b8df" stroke="#555" stroke-width="0.55"/>
<rect x="303.60" y="208.90" width="11.55" height="8.70" fill="#a3b4de" stroke="#555" stroke-width="0.55"/>
<rect x="315.15" y="208.90" width="11.55" height="8.70" fill="#9fb1dc" stroke="#555" stroke-width="0.55"/>
<rect x="280.50" y="217.60" width="11.55" height="8.70" fill="#a3b4de" stroke="#555" stroke-width="0.55"/>
<rect x="292.05" y="217.60" width="11.55" height="8.70" fill="#a3b4de" stroke="#555" stroke-width="0.55"/>
<rect x="303.60" y="217.60" width="11.55" height="8.70" fill="#a3b4de" stroke="#555" stroke-width="0.55"/>
<rect x="315.15" y="217.60" width="11.55" height="8.70" fill="#a9b8df" stroke="#555" stroke-width="0.55"/>
<rect x="280.50" y="226.30" width="11.55" height="8.70" fill="#c5d0ea" stroke="#555" stroke-width="0.55"/>
<rect x="292.05" y="226.30" width="11.55" height="8.70" fill="#9fb1dc" stroke="#555" stroke-width="0.55"/>
<rect x="303.60" y="226.30" width="11.55" height="8.70" fill="#a9b8df" stroke="#555" stroke-width="0.55"/>
<rect x="315.15" y="226.30" width="11.55" height="8.70" fill="#9fb1dc" stroke="#555" stroke-width="0.55"/>
<rect x="280.5" y="191.5" width="46.2" height="43.50" fill="none" stroke="#777" stroke-width="0.8"/>
<rect x="331.30" y="191.50" width="11.55" height="8.70" fill="#b6c3e4" stroke="#555" stroke-width="0.55"/>
<rect x="342.85" y="191.50" width="11.55" height="8.70" fill="#c3303a" stroke="#555" stroke-width="0.55"/>
<rect x="354.40" y="191.50" width="11.55" height="8.70" fill="#fefefe" stroke="#555" stroke-width="0.55"/>
<rect x="365.95" y="191.50" width="11.55" height="8.70" fill="#f5c4c0" stroke="#555" stroke-width="0.55"/>
<rect x="331.30" y="200.20" width="11.55" height="8.70" fill="#e3e8f5" stroke="#555" stroke-width="0.55"/>
<rect x="342.85" y="200.20" width="11.55" height="8.70" fill="#e88a86" stroke="#555" stroke-width="0.55"/>
<rect x="354.40" y="200.20" width="11.55" height="8.70" fill="#f0a8a4" stroke="#555" stroke-width="0.55"/>
<rect x="365.95" y="200.20" width="11.55" height="8.70" fill="#fdf0ef" stroke="#555" stroke-width="0.55"/>
<rect x="331.30" y="208.90" width="11.55" height="8.70" fill="#fce4e3" stroke="#555" stroke-width="0.55"/>
<rect x="342.85" y="208.90" width="11.55" height="8.70" fill="#bdc9e7" stroke="#555" stroke-width="0.55"/>
<rect x="354.40" y="208.90" width="11.55" height="8.70" fill="#f5c4c0" stroke="#555" stroke-width="0.55"/>
<rect x="365.95" y="208.90" width="11.55" height="8.70" fill="#c8343c" stroke="#555" stroke-width="0.55"/>
<rect x="331.30" y="217.60" width="11.55" height="8.70" fill="#fce4e3" stroke="#555" stroke-width="0.55"/>
<rect x="342.85" y="217.60" width="11.55" height="8.70" fill="#eb9893" stroke="#555" stroke-width="0.55"/>
<rect x="354.40" y="217.60" width="11.55" height="8.70" fill="#df7069" stroke="#555" stroke-width="0.55"/>
<rect x="365.95" y="217.60" width="11.55" height="8.70" fill="#f0aaa6" stroke="#555" stroke-width="0.55"/>
<rect x="331.30" y="226.30" width="11.55" height="8.70" fill="#d95e5a" stroke="#555" stroke-width="0.55"/>
<rect x="342.85" y="226.30" width="11.55" height="8.70" fill="#f5c4c0" stroke="#555" stroke-width="0.55"/>
<rect x="354.40" y="226.30" width="11.55" height="8.70" fill="#eda39e" stroke="#555" stroke-width="0.55"/>
<rect x="365.95" y="226.30" width="11.55" height="8.70" fill="#fdfdfd" stroke="#555" stroke-width="0.55"/>
<rect x="331.3" y="191.5" width="46.2" height="43.50" fill="none" stroke="#777" stroke-width="0.8"/>
<text x="234.18" y="242.8" font-size="8.1" fill="#000" text-anchor="middle"  stroke="#000" stroke-width="0.12">46</text>
<text x="245.73" y="242.8" font-size="8.1" fill="#000" text-anchor="middle"  stroke="#000" stroke-width="0.12">53</text>
<text x="257.27" y="242.8" font-size="8.1" fill="#000" text-anchor="middle"  stroke="#000" stroke-width="0.12">63</text>
<text x="268.82" y="242.8" font-size="8.1" fill="#000" text-anchor="middle"  stroke="#000" stroke-width="0.12">73</text>
<text x="286.27" y="242.8" font-size="8.1" fill="#000" text-anchor="middle"  stroke="#000" stroke-width="0.12">46</text>
<text x="297.82" y="242.8" font-size="8.1" fill="#000" text-anchor="middle"  stroke="#000" stroke-width="0.12">53</text>
<text x="309.38" y="242.8" font-size="8.1" fill="#000" text-anchor="middle"  stroke="#000" stroke-width="0.12">63</text>
<text x="320.92" y="242.8" font-size="8.1" fill="#000" text-anchor="middle"  stroke="#000" stroke-width="0.12">73</text>
<text x="337.07" y="242.8" font-size="8.1" fill="#000" text-anchor="middle"  stroke="#000" stroke-width="0.12">46</text>
<text x="348.62" y="242.8" font-size="8.1" fill="#000" text-anchor="middle"  stroke="#000" stroke-width="0.12">53</text>
<text x="360.18" y="242.8" font-size="8.1" fill="#000" text-anchor="middle"  stroke="#000" stroke-width="0.12">63</text>
<text x="371.73" y="242.8" font-size="8.1" fill="#000" text-anchor="middle"  stroke="#000" stroke-width="0.12">73</text>
<text x="287.4" y="253.1" font-size="8.1" fill="#000" text-anchor="start"  stroke="#000" stroke-width="0.12">dps</text>
<text transform="translate(220.9,70.30) rotate(-90)" font-size="7.8" fill="#e8232b" text-anchor="middle" stroke="#e8232b" stroke-width="0.12">group 4</text>
<text transform="translate(220.9,106.60) rotate(-90)" font-size="7.8" fill="#e8232b" text-anchor="middle" stroke="#e8232b" stroke-width="0.12">group 3</text>
<text transform="translate(220.9,160.40) rotate(-90)" font-size="7.8" fill="#e8232b" text-anchor="middle" stroke="#e8232b" stroke-width="0.12">group 2</text>
<text transform="translate(220.9,207.40) rotate(-90)" font-size="7.8" fill="#e8232b" text-anchor="middle" stroke="#e8232b" stroke-width="0.12">group 1</text>
<line x1="212.5" y1="88.2" x2="212.5" y2="185.0" stroke="#666" stroke-width="0.6"/>
<line x1="212.5" y1="88.2" x2="215.0" y2="88.2" stroke="#666" stroke-width="0.6"/>
<line x1="212.5" y1="185.0" x2="219.7" y2="185.0" stroke="#666" stroke-width="0.6"/>
<line x1="215.0" y1="72.0" x2="215.0" y2="104.2" stroke="#666" stroke-width="0.6"/>
<line x1="215.0" y1="72.0" x2="226.3" y2="72.0" stroke="#666" stroke-width="0.6"/>
<line x1="215.0" y1="104.2" x2="225.8" y2="104.2" stroke="#666" stroke-width="0.6"/>
<line x1="219.7" y1="163.5" x2="219.7" y2="210.5" stroke="#666" stroke-width="0.6"/>
<line x1="219.7" y1="163.5" x2="225.3" y2="163.5" stroke="#666" stroke-width="0.6"/>
<line x1="219.7" y1="210.5" x2="226.8" y2="210.5" stroke="#666" stroke-width="0.6"/>
<line x1="226.3" y1="69.5" x2="226.3" y2="78.0" stroke="#666" stroke-width="0.6"/>
<line x1="226.3" y1="69.5" x2="228.4" y2="69.5" stroke="#666" stroke-width="0.6"/>
<line x1="226.3" y1="78.0" x2="228.4" y2="78.0" stroke="#666" stroke-width="0.6"/>
<line x1="225.8" y1="89.6" x2="225.8" y2="128.5" stroke="#999" stroke-width="0.6"/>
<line x1="225.8" y1="89.55" x2="228.4" y2="89.55" stroke="#999" stroke-width="0.6"/>
<line x1="225.8" y1="98.25" x2="228.4" y2="98.25" stroke="#999" stroke-width="0.6"/>
<line x1="225.8" y1="106.94999999999999" x2="228.4" y2="106.94999999999999" stroke="#999" stroke-width="0.6"/>
<line x1="225.8" y1="115.64999999999999" x2="228.4" y2="115.64999999999999" stroke="#999" stroke-width="0.6"/>
<line x1="225.8" y1="124.35" x2="228.4" y2="124.35" stroke="#999" stroke-width="0.6"/>
<line x1="225.8" y1="133.04999999999998" x2="228.4" y2="133.04999999999998" stroke="#999" stroke-width="0.6"/>
<line x1="226.8" y1="107.5" x2="226.8" y2="116.5" stroke="#444" stroke-width="0.9"/>
<line x1="225.3" y1="153.5" x2="225.3" y2="180.0" stroke="#999" stroke-width="0.6"/>
<line x1="225.3" y1="149.45" x2="228.4" y2="149.45" stroke="#999" stroke-width="0.6"/>
<line x1="225.3" y1="158.14999999999998" x2="228.4" y2="158.14999999999998" stroke="#999" stroke-width="0.6"/>
<line x1="225.3" y1="166.85" x2="228.4" y2="166.85" stroke="#999" stroke-width="0.6"/>
<line x1="225.3" y1="175.54999999999998" x2="228.4" y2="175.54999999999998" stroke="#999" stroke-width="0.6"/>
<line x1="225.3" y1="184.24999999999997" x2="228.4" y2="184.24999999999997" stroke="#999" stroke-width="0.6"/>
<line x1="226.8" y1="196.0" x2="226.8" y2="230.5" stroke="#999" stroke-width="0.6"/>
<line x1="226.8" y1="195.85" x2="228.4" y2="195.85" stroke="#999" stroke-width="0.6"/>
<line x1="226.8" y1="204.54999999999998" x2="228.4" y2="204.54999999999998" stroke="#999" stroke-width="0.6"/>
<line x1="226.8" y1="213.25" x2="228.4" y2="213.25" stroke="#999" stroke-width="0.6"/>
<line x1="226.8" y1="221.95" x2="228.4" y2="221.95" stroke="#999" stroke-width="0.6"/>
<line x1="226.8" y1="230.65" x2="228.4" y2="230.65" stroke="#999" stroke-width="0.6"/>
<rect x="381.0" y="65.1" width="25.399999999999977" height="17.80" rx="1.2" fill="#fff" stroke="#999" stroke-width="0.7"/>
<line x1="379.5" y1="69.55" x2="381.0" y2="69.55" stroke="#999" stroke-width="0.5"/>
<line x1="406.4" y1="69.55" x2="407.9" y2="69.55" stroke="#999" stroke-width="0.5"/>
<line x1="392.7" y1="69.55" x2="395.0" y2="69.55" stroke="#333" stroke-width="0.6"/>
<line x1="392.7" y1="68.05" x2="392.7" y2="71.05" stroke="#333" stroke-width="0.6"/>
<line x1="402.7" y1="69.55" x2="405.4" y2="69.55" stroke="#333" stroke-width="0.6"/>
<line x1="405.4" y1="68.05" x2="405.4" y2="71.05" stroke="#333" stroke-width="0.6"/>
<rect x="395.0" y="67.55" width="7.70" height="4.0" rx="0.5" fill="#c8c8c8" stroke="#444" stroke-width="0.6"/>
<line x1="399.7" y1="67.55" x2="399.7" y2="71.55" stroke="#333" stroke-width="0.6"/>
<line x1="379.5" y1="78.45" x2="381.0" y2="78.45" stroke="#999" stroke-width="0.5"/>
<line x1="406.4" y1="78.45" x2="407.9" y2="78.45" stroke="#999" stroke-width="0.5"/>
<line x1="384.6" y1="78.45" x2="386.0" y2="78.45" stroke="#333" stroke-width="0.6"/>
<line x1="386.0" y1="76.95" x2="386.0" y2="79.95" stroke="#333" stroke-width="0.6"/>
<rect x="382.2" y="76.45" width="2.40" height="4.0" rx="0.5" fill="#707070" stroke="#444" stroke-width="0.6"/>
<line x1="383.4" y1="76.45" x2="383.4" y2="80.45" stroke="#333" stroke-width="0.6"/>
<rect x="381.0" y="85.2" width="25.399999999999977" height="52.20" rx="1.2" fill="#fff" stroke="#999" stroke-width="0.7"/>
<line x1="379.5" y1="89.55" x2="381.0" y2="89.55" stroke="#999" stroke-width="0.5"/>
<line x1="406.4" y1="89.55" x2="407.9" y2="89.55" stroke="#999" stroke-width="0.5"/>
<line x1="390.6" y1="89.55" x2="396.4" y2="89.55" stroke="#333" stroke-width="0.6"/>
<line x1="396.4" y1="88.05" x2="396.4" y2="91.05" stroke="#333" stroke-width="0.6"/>
<rect x="383.0" y="87.55" width="7.60" height="4.0" rx="0.5" fill="#c8c8c8" stroke="#444" stroke-width="0.6"/>
<line x1="386.5" y1="87.55" x2="386.5" y2="91.55" stroke="#333" stroke-width="0.6"/>
<circle cx="403.4" cy="89.55" r="0.55" fill="#444"/>
<line x1="379.5" y1="98.25" x2="381.0" y2="98.25" stroke="#999" stroke-width="0.5"/>
<line x1="406.4" y1="98.25" x2="407.9" y2="98.25" stroke="#999" stroke-width="0.5"/>
<line x1="386.9" y1="98.25" x2="389.5" y2="98.25" stroke="#333" stroke-width="0.6"/>
<line x1="389.5" y1="96.75" x2="389.5" y2="99.75" stroke="#333" stroke-width="0.6"/>
<rect x="383.7" y="96.25" width="3.20" height="4.0" rx="0.5" fill="#707070" stroke="#444" stroke-width="0.6"/>
<line x1="385.3" y1="96.25" x2="385.3" y2="100.25" stroke="#333" stroke-width="0.6"/>
<line x1="379.5" y1="106.94999999999999" x2="381.0" y2="106.94999999999999" stroke="#999" stroke-width="0.5"/>
<line x1="406.4" y1="106.94999999999999" x2="407.9" y2="106.94999999999999" stroke="#999" stroke-width="0.5"/>
<line x1="386.4" y1="106.94999999999999" x2="388.0" y2="106.94999999999999" stroke="#333" stroke-width="0.6"/>
<line x1="386.4" y1="105.44999999999999" x2="386.4" y2="108.44999999999999" stroke="#333" stroke-width="0.6"/>
<rect x="388.0" y="104.95" width="3.60" height="4.0" rx="0.5" fill="#8a8a8a" stroke="#444" stroke-width="0.6"/>
<line x1="389.8" y1="104.94999999999999" x2="389.8" y2="108.94999999999999" stroke="#333" stroke-width="0.6"/>
<circle cx="394.8" cy="106.95" r="0.55" fill="#444"/>
<line x1="379.5" y1="115.64999999999999" x2="381.0" y2="115.64999999999999" stroke="#999" stroke-width="0.5"/>
<line x1="406.4" y1="115.64999999999999" x2="407.9" y2="115.64999999999999" stroke="#999" stroke-width="0.5"/>
<rect x="383.2" y="113.65" width="4.20" height="4.0" rx="0.5" fill="#8a8a8a" stroke="#444" stroke-width="0.6"/>
<line x1="385.3" y1="113.64999999999999" x2="385.3" y2="117.64999999999999" stroke="#333" stroke-width="0.6"/>
<line x1="379.5" y1="124.35" x2="381.0" y2="124.35" stroke="#999" stroke-width="0.5"/>
<line x1="406.4" y1="124.35" x2="407.9" y2="124.35" stroke="#999" stroke-width="0.5"/>
<line x1="386.4" y1="124.35" x2="387.9" y2="124.35" stroke="#333" stroke-width="0.6"/>
<line x1="387.9" y1="122.85" x2="387.9" y2="125.85" stroke="#333" stroke-width="0.6"/>
<rect x="383.4" y="122.35" width="3.00" height="4.0" rx="0.5" fill="#707070" stroke="#444" stroke-width="0.6"/>
<line x1="384.9" y1="122.35" x2="384.9" y2="126.35" stroke="#333" stroke-width="0.6"/>
<line x1="379.5" y1="133.04999999999998" x2="381.0" y2="133.04999999999998" stroke="#999" stroke-width="0.5"/>
<line x1="406.4" y1="133.04999999999998" x2="407.9" y2="133.04999999999998" stroke="#999" stroke-width="0.5"/>
<line x1="387.4" y1="133.04999999999998" x2="389.0" y2="133.04999999999998" stroke="#333" stroke-width="0.6"/>
<line x1="389.0" y1="131.54999999999998" x2="389.0" y2="134.54999999999998" stroke="#333" stroke-width="0.6"/>
<rect x="384.0" y="131.05" width="3.40" height="4.0" rx="0.5" fill="#707070" stroke="#444" stroke-width="0.6"/>
<line x1="385.7" y1="131.04999999999998" x2="385.7" y2="135.04999999999998" stroke="#333" stroke-width="0.6"/>
<rect x="381.0" y="145.1" width="25.399999999999977" height="43.50" rx="1.2" fill="#fff" stroke="#999" stroke-width="0.7"/>
<line x1="379.5" y1="149.45" x2="381.0" y2="149.45" stroke="#999" stroke-width="0.5"/>
<line x1="406.4" y1="149.45" x2="407.9" y2="149.45" stroke="#999" stroke-width="0.5"/>
<line x1="386.0" y1="149.45" x2="387.5" y2="149.45" stroke="#333" stroke-width="0.6"/>
<line x1="387.5" y1="147.95" x2="387.5" y2="150.95" stroke="#333" stroke-width="0.6"/>
<rect x="383.4" y="147.45" width="2.60" height="4.0" rx="0.5" fill="#707070" stroke="#444" stroke-width="0.6"/>
<line x1="384.7" y1="147.45" x2="384.7" y2="151.45" stroke="#333" stroke-width="0.6"/>
<line x1="379.5" y1="158.14999999999998" x2="381.0" y2="158.14999999999998" stroke="#999" stroke-width="0.5"/>
<line x1="406.4" y1="158.14999999999998" x2="407.9" y2="158.14999999999998" stroke="#999" stroke-width="0.5"/>
<line x1="386.9" y1="158.14999999999998" x2="388.2" y2="158.14999999999998" stroke="#333" stroke-width="0.6"/>
<line x1="388.2" y1="156.64999999999998" x2="388.2" y2="159.64999999999998" stroke="#333" stroke-width="0.6"/>
<rect x="382.9" y="156.15" width="4.00" height="4.0" rx="0.5" fill="#8a8a8a" stroke="#444" stroke-width="0.6"/>
<line x1="384.9" y1="156.14999999999998" x2="384.9" y2="160.14999999999998" stroke="#333" stroke-width="0.6"/>
<circle cx="392.8" cy="158.15" r="0.55" fill="#444"/>
<line x1="379.5" y1="166.85" x2="381.0" y2="166.85" stroke="#999" stroke-width="0.5"/>
<line x1="406.4" y1="166.85" x2="407.9" y2="166.85" stroke="#999" stroke-width="0.5"/>
<line x1="386.4" y1="166.85" x2="390.0" y2="166.85" stroke="#333" stroke-width="0.6"/>
<line x1="390.0" y1="165.35" x2="390.0" y2="168.35" stroke="#333" stroke-width="0.6"/>
<rect x="383.0" y="164.85" width="3.40" height="4.0" rx="0.5" fill="#707070" stroke="#444" stroke-width="0.6"/>
<line x1="384.7" y1="164.85" x2="384.7" y2="168.85" stroke="#333" stroke-width="0.6"/>
<line x1="379.5" y1="175.54999999999998" x2="381.0" y2="175.54999999999998" stroke="#999" stroke-width="0.5"/>
<line x1="406.4" y1="175.54999999999998" x2="407.9" y2="175.54999999999998" stroke="#999" stroke-width="0.5"/>
<rect x="384.0" y="173.55" width="3.00" height="4.0" rx="0.5" fill="#707070" stroke="#444" stroke-width="0.6"/>
<line x1="385.5" y1="173.54999999999998" x2="385.5" y2="177.54999999999998" stroke="#333" stroke-width="0.6"/>
<line x1="379.5" y1="184.24999999999997" x2="381.0" y2="184.24999999999997" stroke="#999" stroke-width="0.5"/>
<line x1="406.4" y1="184.24999999999997" x2="407.9" y2="184.24999999999997" stroke="#999" stroke-width="0.5"/>
<line x1="391.0" y1="184.24999999999997" x2="392.8" y2="184.24999999999997" stroke="#333" stroke-width="0.6"/>
<line x1="391.0" y1="182.74999999999997" x2="391.0" y2="185.74999999999997" stroke="#333" stroke-width="0.6"/>
<line x1="399.8" y1="184.24999999999997" x2="405.1" y2="184.24999999999997" stroke="#333" stroke-width="0.6"/>
<line x1="405.1" y1="182.74999999999997" x2="405.1" y2="185.74999999999997" stroke="#333" stroke-width="0.6"/>
<rect x="392.8" y="182.25" width="7.00" height="4.0" rx="0.5" fill="#c8c8c8" stroke="#444" stroke-width="0.6"/>
<line x1="396.3" y1="182.24999999999997" x2="396.3" y2="186.24999999999997" stroke="#333" stroke-width="0.6"/>
<rect x="381.0" y="191.5" width="25.399999999999977" height="43.50" rx="1.2" fill="#fff" stroke="#999" stroke-width="0.7"/>
<line x1="379.5" y1="195.85" x2="381.0" y2="195.85" stroke="#999" stroke-width="0.5"/>
<line x1="406.4" y1="195.85" x2="407.9" y2="195.85" stroke="#999" stroke-width="0.5"/>
<rect x="383.0" y="193.85" width="3.60" height="4.0" rx="0.5" fill="#8a8a8a" stroke="#444" stroke-width="0.6"/>
<line x1="384.8" y1="193.85" x2="384.8" y2="197.85" stroke="#333" stroke-width="0.6"/>
<circle cx="388.9" cy="195.85" r="0.55" fill="#444"/>
<line x1="379.5" y1="204.54999999999998" x2="381.0" y2="204.54999999999998" stroke="#999" stroke-width="0.5"/>
<line x1="406.4" y1="204.54999999999998" x2="407.9" y2="204.54999999999998" stroke="#999" stroke-width="0.5"/>
<rect x="383.5" y="202.55" width="7.80" height="4.0" rx="0.5" fill="#c8c8c8" stroke="#444" stroke-width="0.6"/>
<line x1="387.0" y1="202.54999999999998" x2="387.0" y2="206.54999999999998" stroke="#333" stroke-width="0.6"/>
<line x1="379.5" y1="213.25" x2="381.0" y2="213.25" stroke="#999" stroke-width="0.5"/>
<line x1="406.4" y1="213.25" x2="407.9" y2="213.25" stroke="#999" stroke-width="0.5"/>
<line x1="384.4" y1="213.25" x2="385.9" y2="213.25" stroke="#333" stroke-width="0.6"/>
<line x1="384.4" y1="211.75" x2="384.4" y2="214.75" stroke="#333" stroke-width="0.6"/>
<line x1="389.5" y1="213.25" x2="392.0" y2="213.25" stroke="#333" stroke-width="0.6"/>
<line x1="392.0" y1="211.75" x2="392.0" y2="214.75" stroke="#333" stroke-width="0.6"/>
<rect x="385.9" y="211.25" width="3.60" height="4.0" rx="0.5" fill="#8a8a8a" stroke="#444" stroke-width="0.6"/>
<line x1="387.7" y1="211.25" x2="387.7" y2="215.25" stroke="#333" stroke-width="0.6"/>
<line x1="379.5" y1="221.95" x2="381.0" y2="221.95" stroke="#999" stroke-width="0.5"/>
<line x1="406.4" y1="221.95" x2="407.9" y2="221.95" stroke="#999" stroke-width="0.5"/>
<rect x="382.2" y="219.95" width="3.10" height="4.0" rx="0.5" fill="#707070" stroke="#444" stroke-width="0.6"/>
<line x1="383.7" y1="219.95" x2="383.7" y2="223.95" stroke="#333" stroke-width="0.6"/>
<line x1="379.5" y1="230.65" x2="381.0" y2="230.65" stroke="#999" stroke-width="0.5"/>
<line x1="406.4" y1="230.65" x2="407.9" y2="230.65" stroke="#999" stroke-width="0.5"/>
<line x1="386.2" y1="230.65" x2="387.1" y2="230.65" stroke="#333" stroke-width="0.6"/>
<line x1="386.2" y1="229.15" x2="386.2" y2="232.15" stroke="#333" stroke-width="0.6"/>
<rect x="387.1" y="228.65" width="3.10" height="4.0" rx="0.5" fill="#707070" stroke="#444" stroke-width="0.6"/>
<line x1="388.6" y1="228.65" x2="388.6" y2="232.65" stroke="#333" stroke-width="0.6"/>
<line x1="381.9" y1="235.2" x2="381.9" y2="236.8" stroke="#555" stroke-width="0.6"/>
<text x="381.9" y="244.2" font-size="8.1" fill="#000" text-anchor="middle"  stroke="#000" stroke-width="0.12">0</text>
<line x1="392.3" y1="235.2" x2="392.3" y2="236.8" stroke="#555" stroke-width="0.6"/>
<text x="392.3" y="244.2" font-size="8.1" fill="#000" text-anchor="middle"  stroke="#000" stroke-width="0.12">2</text>
<line x1="403.0" y1="235.2" x2="403.0" y2="236.8" stroke="#555" stroke-width="0.6"/>
<text x="403.0" y="244.2" font-size="8.1" fill="#000" text-anchor="middle"  stroke="#000" stroke-width="0.12">4</text>
<text x="358.0" y="253.8" font-size="8.1" fill="#000" text-anchor="start" textLength="71.7" lengthAdjust="spacingAndGlyphs"  stroke="#000" stroke-width="0.12">Relative abundance</text>
<text x="344.5" y="263.4" font-size="8.1" fill="#000" text-anchor="start" textLength="98.4" lengthAdjust="spacingAndGlyphs"  stroke="#000" stroke-width="0.12">in intercropping peanut (%)</text>
<path d="M381.2,236.3 Q377.5,244.5 357,246.6" stroke="#888" stroke-width="0.7" fill="none" stroke-dasharray="0.9,1.3"/>
<path d="M405.8,236.3 Q409.5,244.5 430,246.6" stroke="#888" stroke-width="0.7" fill="none" stroke-dasharray="0.9,1.3"/>
<rect x="394.9" y="13.8" width="45" height="4.7" fill="url(#gc)"/>
<rect x="396.20000000000005" y="13.8" width="0.8" height="1.1" fill="#fff"/><rect x="396.20000000000005" y="17.4" width="0.8" height="1.1" fill="#fff"/>
<rect x="406.8" y="13.8" width="0.8" height="1.1" fill="#fff"/><rect x="406.8" y="17.4" width="0.8" height="1.1" fill="#fff"/>
<rect x="426.90000000000003" y="13.8" width="0.8" height="1.1" fill="#fff"/><rect x="426.90000000000003" y="17.4" width="0.8" height="1.1" fill="#fff"/>
<rect x="438.3" y="13.8" width="0.8" height="1.1" fill="#fff"/><rect x="438.3" y="17.4" width="0.8" height="1.1" fill="#fff"/>
<rect x="417.0" y="14.0" width="0.8" height="0.9" fill="#222"/><rect x="417.0" y="17.4" width="0.8" height="0.9" fill="#222"/>
<text x="405.0" y="11.1" font-size="8.1" fill="#000" text-anchor="middle"  stroke="#000" stroke-width="0.12">-0.5</text>
<text x="426.5" y="11.1" font-size="8.1" fill="#000" text-anchor="middle"  stroke="#000" stroke-width="0.12">0.5</text>
<text x="396.1" y="25.2" font-size="8.1" fill="#000" text-anchor="middle"  stroke="#000" stroke-width="0.12">-1</text>
<text x="417.5" y="25.2" font-size="8.1" fill="#000" text-anchor="middle"  stroke="#000" stroke-width="0.12">0</text>
<text x="438.4" y="25.2" font-size="8.1" fill="#000" text-anchor="middle"  stroke="#000" stroke-width="0.12">1</text>
<text x="444.6" y="17.6" font-size="8.1" fill="#000" text-anchor="start" textLength="170.3" lengthAdjust="spacingAndGlyphs"  stroke="#000" stroke-width="0.12">Correlation with plant-soil Fe nutrition in peanut</text>
<path d="M423.3,64.2 L428.7,46.4 L440.9,46.4" stroke="#444" stroke-width="0.75" fill="none"/>
<path d="M423.30,64.40 L423.03,61.81 L424.95,62.39 Z" fill="#333"/>
<path d="M452.8,64.2 L457.5,57.1 L470.0,57.1" stroke="#444" stroke-width="0.75" fill="none"/>
<path d="M452.80,64.40 L453.26,61.84 L454.94,62.92 Z" fill="#333"/>
<text x="441.1" y="49.3" font-size="8.1" fill="#000" text-anchor="start" textLength="156.0" lengthAdjust="spacingAndGlyphs"  stroke="#000" stroke-width="0.12">Correlation with active iron in young leaves</text>
<text x="470.3" y="60.3" font-size="8.1" fill="#000" text-anchor="start" textLength="160.0" lengthAdjust="spacingAndGlyphs"  stroke="#000" stroke-width="0.12">Correlation with available iron in rhizosphere</text>
<rect x="408.5" y="65.10" width="29.3" height="8.9" fill="#6fad50" stroke="#555" stroke-width="0.5"/>
<text x="410.10" y="73.20" font-size="8.2" fill="#111" stroke="#111" stroke-width="0.12">-0.60**</text>
<rect x="408.5" y="74.00" width="29.3" height="8.9" fill="#d5e8c8" stroke="#555" stroke-width="0.5"/>
<rect x="438.9" y="65.10" width="29.3" height="8.9" fill="#6aaa4a" stroke="#555" stroke-width="0.5"/>
<text x="439.40" y="73.20" font-size="8.2" fill="#111" stroke="#111" stroke-width="0.12">-0.67**</text>
<rect x="438.9" y="74.00" width="29.3" height="8.9" fill="#a6cd8e" stroke="#555" stroke-width="0.5"/>
<text x="439.40" y="82.10" font-size="8.2" fill="#111" stroke="#111" stroke-width="0.12">-0.46*</text>
<rect x="408.5" y="85.20" width="29.3" height="8.7" fill="#5e9e3e" stroke="#555" stroke-width="0.5"/>
<text x="410.10" y="93.30" font-size="8.2" fill="#111" stroke="#111" stroke-width="0.12">-0.68***</text>
<rect x="408.5" y="93.90" width="29.3" height="8.7" fill="#66a447" stroke="#555" stroke-width="0.5"/>
<text x="410.10" y="102.00" font-size="8.2" fill="#111" stroke="#111" stroke-width="0.12">-0.64***</text>
<rect x="408.5" y="102.60" width="29.3" height="8.7" fill="#b8d8a3" stroke="#555" stroke-width="0.5"/>
<rect x="408.5" y="111.30" width="29.3" height="8.7" fill="#bcdaa8" stroke="#555" stroke-width="0.5"/>
<rect x="408.5" y="120.00" width="29.3" height="8.7" fill="#7bb561" stroke="#555" stroke-width="0.5"/>
<text x="410.10" y="128.10" font-size="8.2" fill="#111" stroke="#111" stroke-width="0.12">-0.53**</text>
<rect x="408.5" y="128.70" width="29.3" height="8.7" fill="#9ecb86" stroke="#555" stroke-width="0.5"/>
<text x="410.10" y="136.80" font-size="8.2" fill="#111" stroke="#111" stroke-width="0.12">-0.45*</text>
<rect x="438.9" y="85.20" width="29.3" height="8.7" fill="#8dc173" stroke="#555" stroke-width="0.5"/>
<text x="439.40" y="93.30" font-size="8.2" fill="#111" stroke="#111" stroke-width="0.12">-0.51*</text>
<rect x="438.9" y="93.90" width="29.3" height="8.7" fill="#75b15a" stroke="#555" stroke-width="0.5"/>
<text x="439.40" y="102.00" font-size="8.2" fill="#111" stroke="#111" stroke-width="0.12">-0.57**</text>
<rect x="438.9" y="102.60" width="29.3" height="8.7" fill="#5e9e3e" stroke="#555" stroke-width="0.5"/>
<text x="439.40" y="110.70" font-size="8.2" fill="#111" stroke="#111" stroke-width="0.12">-0.68***</text>
<rect x="438.9" y="111.30" width="29.3" height="8.7" fill="#8dc173" stroke="#555" stroke-width="0.5"/>
<text x="439.40" y="119.40" font-size="8.2" fill="#111" stroke="#111" stroke-width="0.12">-0.51*</text>
<rect x="438.9" y="120.00" width="29.3" height="8.7" fill="#66a447" stroke="#555" stroke-width="0.5"/>
<text x="439.40" y="128.10" font-size="8.2" fill="#111" stroke="#111" stroke-width="0.12">-0.64***</text>
<rect x="438.9" y="128.70" width="29.3" height="8.7" fill="#c8e2b5" stroke="#555" stroke-width="0.5"/>
<rect x="408.5" y="145.10" width="29.3" height="8.7" fill="#fbc8a8" stroke="#555" stroke-width="0.5"/>
<rect x="408.5" y="153.80" width="29.3" height="8.7" fill="#fbcaa8" stroke="#555" stroke-width="0.5"/>
<rect x="408.5" y="162.50" width="29.3" height="8.7" fill="#fdd8c0" stroke="#555" stroke-width="0.5"/>
<rect x="408.5" y="171.20" width="29.3" height="8.7" fill="#f2a070" stroke="#555" stroke-width="0.5"/>
<text x="410.10" y="178.70" font-size="8.2" fill="#111" stroke="#111" stroke-width="0.12">0.48*</text>
<rect x="408.5" y="179.90" width="29.3" height="8.7" fill="#fbcdb0" stroke="#555" stroke-width="0.5"/>
<rect x="438.9" y="145.10" width="29.3" height="8.7" fill="#f4a878" stroke="#555" stroke-width="0.5"/>
<text x="439.40" y="152.60" font-size="8.2" fill="#111" stroke="#111" stroke-width="0.12">0.41*</text>
<rect x="438.9" y="153.80" width="29.3" height="8.7" fill="#e0772f" stroke="#555" stroke-width="0.5"/>
<text x="439.40" y="161.30" font-size="8.2" fill="#111" stroke="#111" stroke-width="0.12">0.66***</text>
<rect x="438.9" y="162.50" width="29.3" height="8.7" fill="#f0a06c" stroke="#555" stroke-width="0.5"/>
<text x="439.40" y="170.00" font-size="8.2" fill="#111" stroke="#111" stroke-width="0.12">0.50*</text>
<rect x="438.9" y="171.20" width="29.3" height="8.7" fill="#d0600f" stroke="#555" stroke-width="0.5"/>
<text x="439.40" y="178.70" font-size="8.2" fill="#111" stroke="#111" stroke-width="0.12">0.81****</text>
<rect x="438.9" y="179.90" width="29.3" height="8.7" fill="#f2a472" stroke="#555" stroke-width="0.5"/>
<text x="439.40" y="187.40" font-size="8.2" fill="#111" stroke="#111" stroke-width="0.12">0.46**</text>
<rect x="408.5" y="191.50" width="29.3" height="8.7" fill="#f0a070" stroke="#555" stroke-width="0.5"/>
<text x="410.10" y="199.00" font-size="8.2" fill="#111" stroke="#111" stroke-width="0.12">0.47*</text>
<rect x="408.5" y="200.20" width="29.3" height="8.7" fill="#f4aa7c" stroke="#555" stroke-width="0.5"/>
<text x="410.10" y="207.70" font-size="8.2" fill="#111" stroke="#111" stroke-width="0.12">0.41*</text>
<rect x="408.5" y="208.90" width="29.3" height="8.7" fill="#e88a4c" stroke="#555" stroke-width="0.5"/>
<text x="410.10" y="216.40" font-size="8.2" fill="#111" stroke="#111" stroke-width="0.12">0.58**</text>
<rect x="408.5" y="217.60" width="29.3" height="8.7" fill="#f2a676" stroke="#555" stroke-width="0.5"/>
<text x="410.10" y="225.10" font-size="8.2" fill="#111" stroke="#111" stroke-width="0.12">0.43*</text>
<rect x="408.5" y="226.30" width="29.3" height="8.7" fill="#f2a474" stroke="#555" stroke-width="0.5"/>
<text x="410.10" y="233.80" font-size="8.2" fill="#111" stroke="#111" stroke-width="0.12">0.44*</text>
<rect x="438.9" y="191.50" width="29.3" height="8.7" fill="#f0a070" stroke="#555" stroke-width="0.5"/>
<text x="439.40" y="199.00" font-size="8.2" fill="#111" stroke="#111" stroke-width="0.12">0.47*</text>
<rect x="438.9" y="200.20" width="29.3" height="8.7" fill="#e47e3c" stroke="#555" stroke-width="0.5"/>
<text x="439.40" y="207.70" font-size="8.2" fill="#111" stroke="#111" stroke-width="0.12">0.62***</text>
<rect x="438.9" y="208.90" width="29.3" height="8.7" fill="#e88a4c" stroke="#555" stroke-width="0.5"/>
<text x="439.40" y="216.40" font-size="8.2" fill="#111" stroke="#111" stroke-width="0.12">0.58**</text>
<rect x="438.9" y="217.60" width="29.3" height="8.7" fill="#e0762e" stroke="#555" stroke-width="0.5"/>
<text x="439.40" y="225.10" font-size="8.2" fill="#111" stroke="#111" stroke-width="0.12">0.67**</text>
<rect x="438.9" y="226.30" width="29.3" height="8.7" fill="#fcc8a8" stroke="#555" stroke-width="0.5"/>
<rect x="469.3" y="65.30" width="72.50" height="17.40" fill="#fff" stroke="#888" stroke-width="0.7"/>
<text x="471.0" y="72.85" font-size="8.1" fill="#000" stroke="#000" stroke-width="0.12">a5:</text>
<text x="484.6" y="72.85" font-size="8.1" fill="#000" font-style="italic" stroke="#000" stroke-width="0.12">Sphingomonas</text>
<text x="471.0" y="81.75" font-size="8.1" fill="#000" stroke="#000" stroke-width="0.12">b1:</text>
<text x="484.6" y="81.75" font-size="8.1" fill="#000" font-style="italic" stroke="#000" stroke-width="0.12">Massilia</text>
<rect x="469.3" y="85.40" width="152.50" height="51.80" fill="#fff" stroke="#888" stroke-width="0.7"/>
<text x="471.0" y="92.85" font-size="8.1" fill="#000" stroke="#000" stroke-width="0.12">y:</text>
<text x="484.9" y="92.85" font-size="8.1" fill="#000" font-style="italic" stroke="#000" stroke-width="0.12">Saccharimonadales</text>
<text x="471.0" y="101.55" font-size="8.1" fill="#000" stroke="#000" stroke-width="0.12">a:</text>
<text x="484.9" y="101.55" font-size="8.1" fill="#000" font-style="italic" stroke="#000" stroke-width="0.12">IMCC26256</text>
<text x="471.0" y="110.25" font-size="8.1" fill="#000" stroke="#000" stroke-width="0.12">t:</text>
<text x="484.9" y="110.25" font-size="8.1" fill="#000" font-style="italic" stroke="#000" stroke-width="0.12">uncultured_f__Gemmatimonadaceae</text>
<text x="471.0" y="118.95" font-size="8.1" fill="#000" stroke="#000" stroke-width="0.12">a9:</text>
<text x="484.6" y="118.95" font-size="8.1" fill="#000" font-style="italic" stroke="#000" stroke-width="0.12">MND1</text>
<text x="471.0" y="127.65" font-size="8.1" fill="#000" stroke="#000" stroke-width="0.12">a8:</text>
<text x="484.6" y="127.65" font-size="8.1" fill="#000" font-style="italic" stroke="#000" stroke-width="0.12">Ellin6067</text>
<text x="471.0" y="136.35" font-size="8.1" fill="#000" stroke="#000" stroke-width="0.12">g:</text>
<text x="484.9" y="136.35" font-size="8.1" fill="#000" font-style="italic" stroke="#000" stroke-width="0.12">MB-A2-108</text>
<rect x="469.3" y="145.30" width="151.70" height="43.10" fill="#fff" stroke="#888" stroke-width="0.7"/>
<text x="471.0" y="152.15" font-size="8.1" fill="#000" stroke="#000" stroke-width="0.12">l:</text>
<text x="484.9" y="152.15" font-size="8.1" fill="#000" font-style="italic" stroke="#000" stroke-width="0.12">Ohtaekwangia</text>
<text x="471.0" y="160.85" font-size="8.1" fill="#000" stroke="#000" stroke-width="0.12">o:</text>
<text x="484.9" y="160.85" font-size="8.1" fill="#000" font-style="italic" stroke="#000" stroke-width="0.12">Geitlerinema</text>
<text x="471.0" y="169.55" font-size="8.1" fill="#000" stroke="#000" stroke-width="0.12">b3:</text>
<text x="484.6" y="169.55" font-size="8.1" fill="#000" font-style="italic" stroke="#000" stroke-width="0.12">unclassified_f__Pseudomonadaceae</text>
<text x="471.0" y="178.25" font-size="8.1" fill="#e8232b" font-weight="bold" stroke="#e8232b" stroke-width="0.12">b2:</text>
<text x="484.8" y="178.25" font-size="8.1" fill="#e8232b" font-weight="bold" font-style="italic" stroke="#e8232b" stroke-width="0.12">Pseudomonas</text>
<text x="471.0" y="186.95" font-size="8.1" fill="#000" stroke="#000" stroke-width="0.12">a6:</text>
<text x="484.6" y="186.95" font-size="8.1" fill="#000" font-style="italic" stroke="#000" stroke-width="0.12">unclassified_f__Comamonadaceae</text>
<rect x="469.3" y="191.70" width="214.50" height="43.10" fill="#fff" stroke="#888" stroke-width="0.7"/>
<text x="471.0" y="198.65" font-size="8.1" fill="#000" stroke="#000" stroke-width="0.12">b4:</text>
<text x="484.6" y="198.65" font-size="8.1" fill="#000" font-style="italic" stroke="#000" stroke-width="0.12">Pseudoxanthomonas</text>
<text x="471.0" y="207.35" font-size="8.1" fill="#000" stroke="#000" stroke-width="0.12">b7:</text>
<text x="484.6" y="207.35" font-size="8.1" fill="#000" font-style="italic" stroke="#000" stroke-width="0.12">Luteolibacter</text>
<text x="471.0" y="216.05" font-size="8.1" fill="#000" stroke="#000" stroke-width="0.12">a2:</text>
<text x="484.6" y="216.05" font-size="8.1" fill="#000" font-style="italic" stroke="#000" stroke-width="0.12">Allorhizobium-Neorhizobium-Pararhizobium-Rhizobium</text>
<text x="471.0" y="224.75" font-size="8.1" fill="#000" stroke="#000" stroke-width="0.12">a4:</text>
<text x="484.6" y="224.75" font-size="8.1" fill="#000" font-style="italic" stroke="#000" stroke-width="0.12">Sphingobium</text>
<text x="471.0" y="233.45" font-size="8.1" fill="#000" stroke="#000" stroke-width="0.12">a0:</text>
<text x="484.6" y="233.45" font-size="8.1" fill="#000" font-style="italic" stroke="#000" stroke-width="0.12">Devosia</text>
</svg>
</body></html>
